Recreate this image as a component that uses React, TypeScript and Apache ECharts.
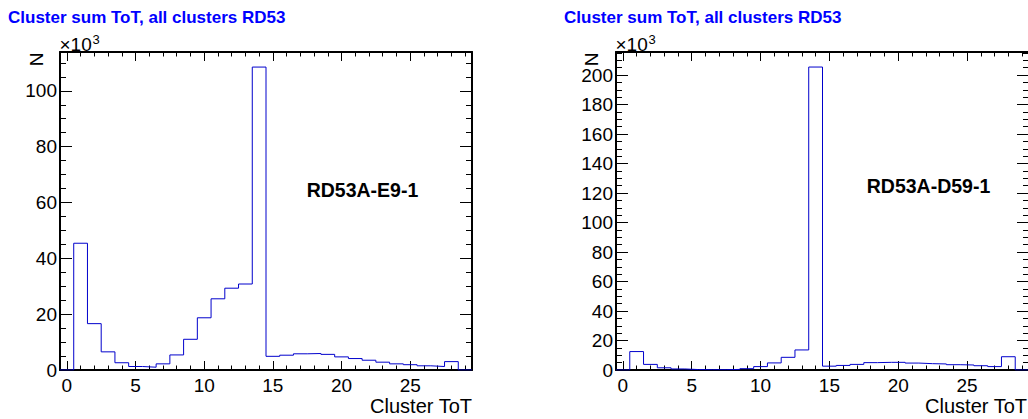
import React, { useEffect, useRef } from "react";
import * as echarts from "echarts";

// ---- data (counts in units of 10^3) ----
const binCenters = [0, 1, 2, 3, 4, 5, 6, 7, 8, 9, 10, 11, 12, 13, 14, 15, 16, 17, 18, 19, 20, 21, 22, 23, 24, 25, 26, 27, 28, 29];
const countsE9 = [0, 45.4, 16.6, 6.5, 2.6, 1.25, 1.0, 2.2, 5.4, 11.0, 18.7, 25.5, 29.3, 30.8, 108.5, 4.9, 5.3, 5.8, 5.9, 5.6, 4.7, 4.1, 3.5, 2.8, 2.2, 1.9, 1.5, 1.25, 3.0, 0];
const countsD59 = [0, 12.5, 3.8, 1.5, 0.7, 0.3, 0.2, 0.2, 0.4, 0.9, 2.3, 4.8, 8.6, 13.6, 205.4, 2.6, 3.1, 3.8, 5.0, 5.2, 5.2, 4.7, 4.3, 4.1, 3.6, 3.4, 2.9, 2.3, 9.0, 0];
const xMajorTicks = [0, 5, 10, 15, 20, 25];
const yMajorE9 = [0, 20, 40, 60, 80, 100];
const yMajorD59 = [0, 20, 40, 60, 80, 100, 120, 140, 160, 180, 200];
const titleText = "Cluster sum ToT, all clusters RD53";
const panelLabels = ["RD53A-E9-1", "RD53A-D59-1"];
const xTitle = "Cluster ToT";
const yTitle = "N";

const X_MIN = -0.5;
const X_MAX = 29.5;
const Y_MAX = [113.9, 215.6];

const FONT = "'Liberation Sans', Arial, Helvetica, sans-serif";

function range(from: number, to: number, step: number): number[] {
  const out: number[] = [];
  for (let v = from; v <= to + 1e-9; v += step) out.push(Math.round(v * 1000) / 1000);
  return out;
}

function stepPoints(counts: number[]): number[][] {
  const pts = binCenters.map((c, i) => [c - 0.5, counts[i]]);
  const last = binCenters.length - 1;
  pts.push([binCenters[last] + 0.5, counts[last]]);
  return pts;
}

const AXIS_LINE = { show: true, onZero: false, lineStyle: { color: "#000", width: 2 } };
const NO_LINE = { show: false, onZero: false };
const TICK_STYLE = { color: "#000", width: 1 };

function xAxes(g: number) {
  const minor = range(0, 29, 1);
  const base = { gridIndex: g, type: "value", min: X_MIN, max: X_MAX, splitLine: { show: false } };
  return [
    {
      ...base, position: "bottom", axisLine: AXIS_LINE,
      axisTick: { show: true, inside: true, length: 9, customValues: xMajorTicks, lineStyle: TICK_STYLE },
      axisLabel: { show: true, customValues: xMajorTicks, color: "#000", fontSize: 19, fontFamily: FONT, margin: 6 },
    },
    {
      ...base, position: "bottom", axisLine: NO_LINE,
      axisTick: { show: true, inside: true, length: 4.5, customValues: minor, lineStyle: TICK_STYLE },
      axisLabel: { show: false },
    },
    {
      ...base, position: "top", axisLine: AXIS_LINE,
      axisTick: { show: true, inside: true, length: 9, customValues: xMajorTicks, lineStyle: TICK_STYLE },
      axisLabel: { show: false },
    },
    {
      ...base, position: "top", axisLine: NO_LINE,
      axisTick: { show: true, inside: true, length: 4.5, customValues: minor, lineStyle: TICK_STYLE },
      axisLabel: { show: false },
    },
  ];
}

function yAxes(g: number, major: number[], ymax: number) {
  const minor = range(0, ymax, 5);
  const base = { gridIndex: g, type: "value", min: 0, max: ymax, splitLine: { show: false } };
  return [
    {
      ...base, position: "left", axisLine: AXIS_LINE,
      axisTick: { show: true, inside: true, length: 12, customValues: major, lineStyle: TICK_STYLE },
      axisLabel: {
        show: true, customValues: major, color: "#000", fontSize: 19, fontFamily: FONT, margin: 3,
        formatter: (v: number) => String(Math.round(v)),
      },
    },
    {
      ...base, position: "left", axisLine: NO_LINE,
      axisTick: { show: true, inside: true, length: 6, customValues: minor, lineStyle: TICK_STYLE },
      axisLabel: { show: false },
    },
    {
      ...base, position: "right", axisLine: AXIS_LINE,
      axisTick: { show: true, inside: true, length: 12, customValues: major, lineStyle: TICK_STYLE },
      axisLabel: { show: false },
    },
    {
      ...base, position: "right", axisLine: NO_LINE,
      axisTick: { show: true, inside: true, length: 6, customValues: minor, lineStyle: TICK_STYLE },
      axisLabel: { show: false },
    },
  ];
}

function panelGraphics(frameLeft: number, frameRight: number, titleX: number, labelX: number, labelY: number, label: string, nX: number) {
  return [
    { type: "text", x: titleX, y: 17.2, style: { text: titleText, fill: "#0000ff", font: `bold 17px ${FONT}`, textAlign: "left", textVerticalAlign: "middle" } },
    { type: "text", x: frameLeft - 0.5, y: 44.5, style: { text: "×10", fill: "#000", font: `19px ${FONT}`, textAlign: "left", textVerticalAlign: "middle" } },
    { type: "text", x: frameLeft + 32.5, y: 39.5, style: { text: "3", fill: "#000", font: `13px ${FONT}`, textAlign: "left", textVerticalAlign: "middle" } },
    { type: "text", x: nX, y: 52.5, rotation: Math.PI / 2, style: { text: yTitle, fill: "#000", font: `19px ${FONT}`, textAlign: "right", textVerticalAlign: "middle" } },
    { type: "text", x: frameRight, y: 406, style: { text: xTitle, fill: "#000", font: `20px ${FONT}`, textAlign: "right", textVerticalAlign: "middle" } },
    { type: "text", x: labelX, y: labelY, style: { text: label, fill: "#000", font: `bold 19.5px ${FONT}`, textAlign: "center", textVerticalAlign: "middle" } },
  ];
}

export default function App() {
  const ref = useRef<HTMLDivElement>(null);
  useEffect(() => {
    if (!ref.current) return;
    const chart = echarts.init(ref.current, null, { renderer: "svg" });
    const option: any = {
      animation: false,
      backgroundColor: "#fff",
      grid: [
        { left: 60, top: 52, width: 412, height: 318, containLabel: false, outerBoundsMode: "none" },
        { left: 616, top: 52, width: 413, height: 318, containLabel: false, outerBoundsMode: "none" },
      ],
      xAxis: [...xAxes(0), ...xAxes(1)],
      yAxis: [...yAxes(0, yMajorE9, Y_MAX[0]), ...yAxes(1, yMajorD59, Y_MAX[1])],
      series: [
        {
          type: "line", step: "end", xAxisIndex: 0, yAxisIndex: 0, symbol: "none", clip: true,
          lineStyle: { color: "#0000cc", width: 1 }, data: stepPoints(countsE9),
        },
        {
          type: "line", step: "end", xAxisIndex: 4, yAxisIndex: 4, symbol: "none", clip: true,
          lineStyle: { color: "#0000cc", width: 1 }, data: stepPoints(countsD59),
        },
      ],
      graphic: [
        ...panelGraphics(60, 472, 8, 362.5, 190, panelLabels[0], 36),
        ...panelGraphics(616, 1027, 564, 928.5, 186, panelLabels[1], 591.5),
      ],
    };
    chart.setOption(option);
    return () => chart.dispose();
  }, []);
  return <div ref={ref} style={{ position: "absolute", left: 0, top: 0, width: 1028, height: 419 }} />;
}
